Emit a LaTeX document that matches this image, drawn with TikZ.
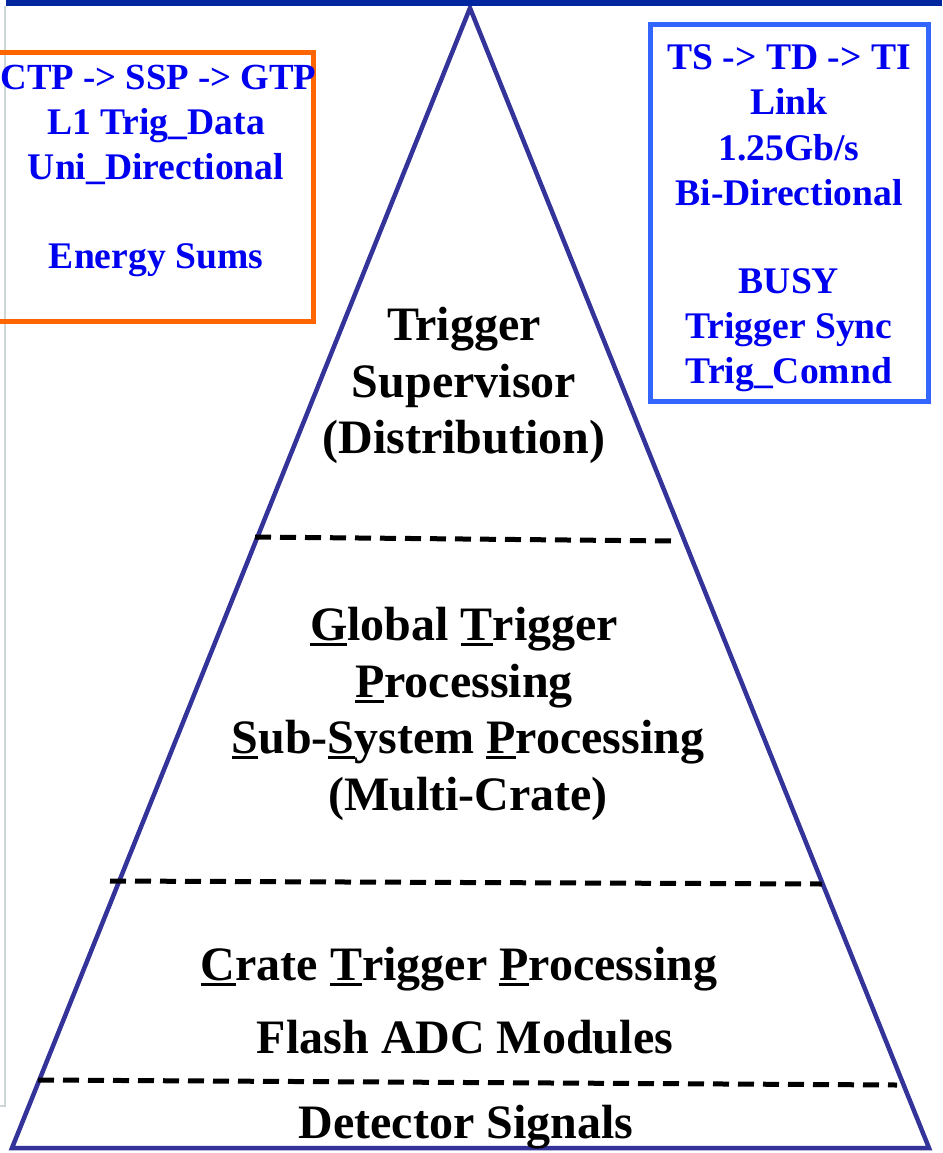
\documentclass[tikz,border=0pt]{standalone}
\usepackage{fontspec}
\setmainfont{Liberation Serif}
\definecolor{pyrblue}{RGB}{51,51,153}
\definecolor{barblue}{RGB}{0,38,160}
\definecolor{boxorange}{RGB}{255,102,0}
\definecolor{boxblue}{RGB}{51,102,255}
\definecolor{txtblue}{RGB}{0,0,240}
\definecolor{edgegrey}{RGB}{205,214,214}
% underline with a fixed offset and thickness
\newcommand\ulc[1]{\leavevmode\setbox0\hbox{#1}\rlap{\rule[-6pt]{\wd0}{2.8pt}}\box0}
\tikzset{
  layertext/.style={anchor=base, inner sep=0pt, text=black,
    font=\fontsize{48}{56}\selectfont\bfseries},
  notetext/.style={anchor=base, inner sep=0pt, text=txtblue,
    font=\fontsize{37.6}{44}\selectfont\bfseries},
  layerline/.style={draw=black, line width=5pt, dash pattern=on 16pt off 9pt},
}
\begin{document}
\begin{tikzpicture}[x=1pt,y=-1pt]
\useasboundingbox (0,0) rectangle (942,1153);
\fill[white] (0,0) rectangle (942,1153);

% page edge
\draw[edgegrey, line width=1.5pt] (5,6) -- (5,1106) -- (0,1106);

% pyramid outline
\coordinate (apex) at (470,8);
\coordinate (bl) at (12,1148);
\coordinate (br) at (929,1148);
\draw[pyrblue, line width=4.5pt, line join=miter] (apex) -- (bl) -- (br) -- cycle;

% layer separators
\draw[layerline] (255,537) -- (672,541);
\draw[layerline] (110,881) -- (822,884);
\draw[layerline] (38,1080) -- (897,1085);

% title bar
\fill[barblue] (6,0) rectangle (942,6);

% side boxes
\begin{scope}
\clip (0,0) rectangle (942,1153);
\draw[boxorange, line width=5pt] (-10,53) rectangle (313,321);
\end{scope}
\draw[boxblue, line width=5pt] (650,25) rectangle (928,401);

% left note
\node[notetext, font=\fontsize{36.8}{44}\selectfont\bfseries] (l1) at (158.5,90) {CTP -> SSP -> GTP};
\node[notetext] (l2) at (156,135) {L1 Trig\_Data};
\node[notetext] (l3) at (156,179) {Uni\_Directional};
\node[notetext] (l4) at (156,268) {Energy Sums};

% right note
\node[notetext] (r1) at (789,70) {TS -> TD -> TI};
\node[notetext] (r2) at (789,115) {Link};
\node[notetext] (r3) at (789,160) {1.25Gb/s};
\node[notetext] (r4) at (789,205) {Bi-Directional};
\node[notetext] (r5) at (789,293) {BUSY};
\node[notetext] (r6) at (789,338) {Trigger Sync};
\node[notetext] (r7) at (789,383) {Trig\_Comnd};

% layer labels
\node[layertext] (ts1) at (464,340) {Trigger};
\node[layertext] (ts2) at (464,397) {Supervisor};
\node[layertext] (ts3) at (464,453) {(Distribution)};

\node[layertext] (gt1) at (464,640) {\ulc{G}lobal \ulc{T}rigger};
\node[layertext] (gt2) at (464,697) {\ulc{P}rocessing};
\node[layertext] (gt3) at (468,753) {\ulc{S}ub-\ulc{S}ystem \ulc{P}rocessing};
\node[layertext] (gt4) at (468,810) {(Multi-Crate)};

\node[layertext] (ct1) at (459,980) {\ulc{C}rate \ulc{T}rigger \ulc{P}rocessing};
\node[layertext] (ct2) at (465,1053) {Flash ADC Modules};

\node[layertext] (ds) at (466,1138) {Detector Signals};
\end{tikzpicture}
\end{document}
